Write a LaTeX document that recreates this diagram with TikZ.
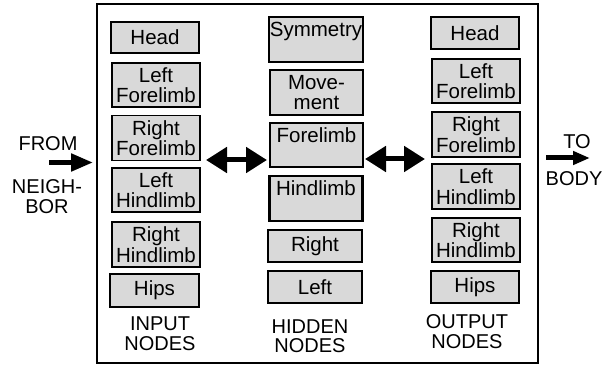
\documentclass[tikz,border=0pt]{standalone}
\usepackage{fontspec}
\setmainfont{Liberation Sans}
\usetikzlibrary{arrows.meta}
\definecolor{boxgray}{HTML}{D9D9D9}
\tikzset{
  box/.style={draw=black, fill=boxgray, line width=1.4pt, inner sep=1pt, align=center,
    font=\fontsize{20.5}{20.5}\selectfont, minimum width=#1},
  box/.default=88pt,
  heavy/.style={line width=2.1pt},
  lbl/.style={align=center, font=\fontsize{20}{19.5}\selectfont, inner sep=0pt},
  fat/.style={line width=5pt}
}
\begin{document}
\begin{tikzpicture}[x=1pt,y=-1pt]
\useasboundingbox (0,0) rectangle (603,366);
\node[draw=black, line width=1.8pt, minimum width=441pt, minimum height=359pt, inner sep=0pt] (frame) at (317.5,183.5) {};

% input column
\node[box, heavy, minimum height=31pt] (ih) at (155,37.5) {Head};
\node[box, minimum height=44pt] (ilf) at (156,85) {Left\\Forelimb};
\node[box, minimum height=45pt] (irf) at (156,138) {Right\\Forelimb};
\node[box, minimum height=44pt] (ilh) at (156,190) {Left\\Hindlimb};
\node[box, minimum height=45pt] (irh) at (156,244.5) {Right\\Hindlimb};
\node[box=89pt, heavy, minimum height=33pt] (ihp) at (154.5,290.5) {Hips};
\node[lbl] (inl) at (160,333.5) {INPUT\\NODES};

% hidden column
\node[box=94pt, heavy, minimum height=45pt] (hs) at (316,39.5) {Symmetry\\[-4.5pt]\phantom{g}};
\node[box=93pt, heavy, minimum height=45pt] (hm) at (316.5,92.5) {Move-\\ment};
\node[box=93pt, heavy, minimum height=44pt] (hf) at (316.5,145) {Forelimb\\[-4.5pt]\phantom{g}};
\node[box=93pt, heavy, minimum height=45pt] (hh) at (316,198.5) {Hindlimb\\[-4.5pt]\phantom{g}};
\node[box=94pt, heavy, minimum height=32pt] (hr) at (315,246) {Right};
\node[box=94pt, heavy, minimum height=32pt] (hl) at (315,287) {Left};
\node[lbl] (hnl) at (310,336) {HIDDEN\\NODES};

% output column
\node[box, heavy, minimum height=32pt] (oh) at (475,33) {Head};
\node[box, minimum height=44pt] (olf) at (476,81) {Left\\Forelimb};
\node[box, minimum height=45pt] (orf) at (476,134.5) {Right\\Forelimb};
\node[box, minimum height=45pt] (olh) at (476,186.5) {Left\\Hindlimb};
\node[box, minimum height=44pt] (orh) at (476,240) {Right\\Hindlimb};
\node[box, heavy, minimum height=32pt] (ohp) at (475,287) {Hips};
\node[lbl] (onl) at (467,331.5) {OUTPUT\\NODES};

% side labels
\node[lbl] (from) at (48,144) {FROM};
\node[lbl] (neigh) at (47,196.5) {NEIGH-\\BOR};
\node[lbl] (to) at (577,142) {TO};
\node[lbl] (body) at (574,179) {BODY};

% arrows
\coordinate (fs) at (49,162.5);
\coordinate (ft) at (93,162.5);
\draw[fat, -{Triangle[length=22pt,width=17pt]}] (fs) -- (ft);
\coordinate (ts) at (546,158);
\coordinate (tt) at (590,158);
\draw[fat, -{Triangle[length=17pt,width=13pt]}] (ts) -- (tt);
\coordinate (a1) at (206,160);
\coordinate (a2) at (267,160);
\draw[fat, {Triangle[length=21pt,width=25pt]}-{Triangle[length=21pt,width=25pt]}] (a1) -- (a2);
\coordinate (b1) at (365,159);
\coordinate (b2) at (425,159);
\draw[fat, {Triangle[length=21pt,width=25pt]}-{Triangle[length=21pt,width=25pt]}] (b1) -- (b2);
\end{tikzpicture}
\end{document}
